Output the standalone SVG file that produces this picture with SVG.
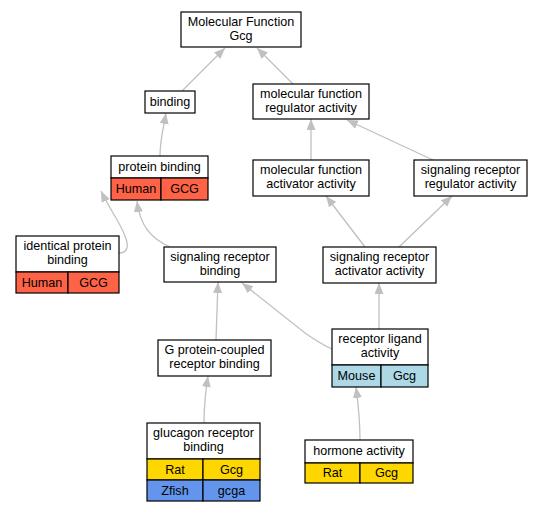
<svg xmlns="http://www.w3.org/2000/svg" width="543" height="512" viewBox="0 0 543 512">
<style>
text{font-family:"Liberation Sans",Arial,sans-serif;font-size:12.6px;text-anchor:middle;fill:#000}
.b{fill:#fff;stroke:#000;stroke-width:1.2}
.c{stroke:#000;stroke-width:1.2}
.e{fill:none;stroke:#c0c0c0;stroke-width:1.3}
</style>
<defs>
<marker id="a" markerUnits="userSpaceOnUse" markerWidth="12" markerHeight="10" refX="11" refY="4.5" orient="auto" viewBox="0 0 12 10">
<path d="M0,0 L11,4.5 L0,9 z" fill="#c0c0c0"/>
</marker>
</defs>
<rect width="543" height="512" fill="#fff"/>
<g id="edges">
<path class="e" d="M182,91 L225,48" marker-end="url(#a)"/>
<path class="e" d="M293,84 L257,48" marker-end="url(#a)"/>
<path class="e" d="M160,156 C160,140 163,130 166,113" marker-end="url(#a)"/>
<path class="e" d="M119,253 C128,253 129,246 125,236 C120,222 110,210 101,191" marker-end="url(#a)"/>
<path class="e" d="M170,247 C150,238 140,225 137,201" marker-end="url(#a)"/>
<path class="e" d="M311,160 L311,119" marker-end="url(#a)"/>
<path class="e" d="M433,160 L347,120" marker-end="url(#a)"/>
<path class="e" d="M365,247 L326,196" marker-end="url(#a)"/>
<path class="e" d="M399,247 L452,196" marker-end="url(#a)"/>
<path class="e" d="M216,340 L218,282" marker-end="url(#a)"/>
<path class="e" d="M332,349 C325,346 318,342 305,333 L242,283" marker-end="url(#a)"/>
<path class="e" d="M379,329 L379,283" marker-end="url(#a)"/>
<path class="e" d="M204,423 C204,408 205,395 208,376" marker-end="url(#a)"/>
<path class="e" d="M360,440 C360,425 359,410 356,387" marker-end="url(#a)"/>
</g>
<g id="n1">
<rect class="b" x="181" y="12" width="120" height="35"/>
<text x="241" y="25.5">Molecular Function</text>
<text x="241" y="40">Gcg</text>
</g>
<g id="n2">
<rect class="b" x="145" y="91" width="50" height="22"/>
<text x="170" y="106">binding</text>
</g>
<g id="n3">
<rect class="b" x="253" y="84" width="116" height="35"/>
<text x="311" y="97.5">molecular function</text>
<text x="311" y="112">regulator activity</text>
</g>
<g id="n4">
<rect class="b" x="111" y="156" width="97" height="22"/>
<text x="159.5" y="171">protein binding</text>
<rect class="c" x="111" y="178" width="50" height="22" fill="#ff6347"/>
<rect class="c" x="161" y="178" width="47" height="22" fill="#ff6347"/>
<text x="136" y="193">Human</text>
<text x="184.5" y="193">GCG</text>
</g>
<g id="n5">
<rect class="b" x="16" y="236" width="103" height="36"/>
<text x="67.5" y="249.5">identical protein</text>
<text x="67.5" y="264">binding</text>
<rect class="c" x="16" y="272" width="52" height="21" fill="#ff6347"/>
<rect class="c" x="68" y="272" width="51" height="21" fill="#ff6347"/>
<text x="42" y="287">Human</text>
<text x="93.5" y="287">GCG</text>
</g>
<g id="n6">
<rect class="b" x="164" y="247" width="112" height="35"/>
<text x="220" y="260.5">signaling receptor</text>
<text x="220" y="275">binding</text>
</g>
<g id="n7">
<rect class="b" x="253" y="160" width="116" height="36"/>
<text x="311" y="173.5">molecular function</text>
<text x="311" y="188">activator activity</text>
</g>
<g id="n8">
<rect class="b" x="414" y="160" width="113" height="36"/>
<text x="470.5" y="173.5">signaling receptor</text>
<text x="470.5" y="188">regulator activity</text>
</g>
<g id="n9">
<rect class="b" x="323" y="247" width="113" height="36"/>
<text x="379.5" y="260.5">signaling receptor</text>
<text x="379.5" y="275">activator activity</text>
</g>
<g id="n10">
<rect class="b" x="158" y="340" width="113" height="36"/>
<text x="214.5" y="353.5">G protein-coupled</text>
<text x="214.5" y="368">receptor binding</text>
</g>
<g id="n11">
<rect class="b" x="332" y="329" width="96" height="36"/>
<text x="380" y="342.5">receptor ligand</text>
<text x="380" y="357">activity</text>
<rect class="c" x="332" y="365" width="49" height="22" fill="#add8e6"/>
<rect class="c" x="381" y="365" width="47" height="22" fill="#add8e6"/>
<text x="356.5" y="380">Mouse</text>
<text x="404.5" y="380">Gcg</text>
</g>
<g id="n12">
<rect class="b" x="147" y="423" width="113" height="36"/>
<text x="203.5" y="436.5">glucagon receptor</text>
<text x="203.5" y="451">binding</text>
<rect class="c" x="147" y="459" width="56" height="21" fill="#ffd700"/>
<rect class="c" x="203" y="459" width="57" height="21" fill="#ffd700"/>
<text x="175" y="474">Rat</text>
<text x="231.5" y="474">Gcg</text>
<rect class="c" x="147" y="480" width="56" height="21" fill="#6495ed"/>
<rect class="c" x="203" y="480" width="57" height="21" fill="#6495ed"/>
<text x="175" y="495">Zfish</text>
<text x="231.5" y="495">gcga</text>
</g>
<g id="n13">
<rect class="b" x="305" y="440" width="108" height="23"/>
<text x="359" y="455">hormone activity</text>
<rect class="c" x="305" y="463" width="55" height="20" fill="#ffd700"/>
<rect class="c" x="360" y="463" width="53" height="20" fill="#ffd700"/>
<text x="332.5" y="477">Rat</text>
<text x="386.5" y="477">Gcg</text>
</g>
</svg>
